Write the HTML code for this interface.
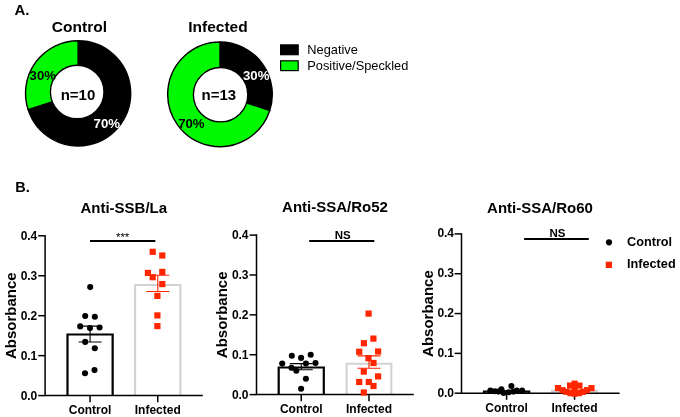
<!DOCTYPE html>
<html lang="en"><head><meta charset="utf-8"><title>Figure</title>
<style>html,body{margin:0;padding:0;background:#fff}body{width:680px;height:417px;overflow:hidden}svg{display:block;will-change:transform}text{font-family:"Liberation Sans",sans-serif;fill:#000}.b{font-weight:bold}</style>
</head><body>
<svg width="680" height="417" viewBox="0 0 680 417">
<rect width="680" height="417" fill="#fff"/>
<text class="b" x="14.4" y="15.4" font-size="15">A.</text>
<text class="b" x="79.4" y="32.2" font-size="15.5" text-anchor="middle">Control</text>
<text class="b" x="218" y="32.3" font-size="15.5" text-anchor="middle">Infected</text>
<path d="M78.1,93.3 L78.10,40.70 A52.6,52.6 0 1 1 28.07,109.55 Z" fill="#000" stroke="#000" stroke-width="1.4" stroke-linejoin="round"/>
<path d="M78.1,93.3 L28.07,109.55 A52.6,52.6 0 0 1 78.10,40.70 Z" fill="#00f900" stroke="#000" stroke-width="1.4" stroke-linejoin="round"/>
<circle cx="77.2" cy="92" r="26.8" fill="#fff" stroke="#000" stroke-width="1.4"/>
<text class="b" x="29.6" y="79.5" font-size="13.2">30%</text>
<text class="b" x="93.6" y="127.9" font-size="13.2" style="fill:#fff">70%</text>
<text class="b" x="78" y="99.8" font-size="15" text-anchor="middle">n=10</text>
<path d="M220.0,94.3 L220.00,42.00 A52.3,52.3 0 0 1 269.74,110.46 Z" fill="#000" stroke="#000" stroke-width="1.4" stroke-linejoin="round"/>
<path d="M220.0,94.3 L269.74,110.46 A52.3,52.3 0 1 1 220.00,42.00 Z" fill="#00f900" stroke="#000" stroke-width="1.4" stroke-linejoin="round"/>
<circle cx="220.6" cy="94.7" r="27.2" fill="#fff" stroke="#000" stroke-width="1.4"/>
<text class="b" x="243" y="80.3" font-size="13.2" style="fill:#fff">30%</text>
<text class="b" x="178.2" y="127.8" font-size="13.2">70%</text>
<text class="b" x="218.8" y="100.3" font-size="15" text-anchor="middle">n=13</text>
<rect x="280.6" y="44.9" width="17.6" height="9.8" fill="#000" stroke="#000" stroke-width="1.2"/>
<rect x="280.6" y="60.8" width="17.6" height="9.8" fill="#00f900" stroke="#000" stroke-width="1.2"/>
<text x="307.3" y="53.9" font-size="12.8">Negative</text>
<text x="307.3" y="69.7" font-size="12.8">Positive/Speckled</text>
<text class="b" x="15.2" y="191.8" font-size="14.5">B.</text>
<path d="M67.5,395.60 V334.48 H112.65 V395.60" fill="none" stroke="#000" stroke-width="2.2"/>
<path d="M135.1,395.60 V285.02 H180.4 V395.60" fill="none" stroke="#d2d2d2" stroke-width="2.1"/>
<path d="M45.1,235.05 V395.60 H202.8" fill="none" stroke="#000" stroke-width="1.5"/>
<path d="M38.20,395.60 H45.1" stroke="#000" stroke-width="1.5"/>
<text class="b" x="37.00" y="400.00" font-size="12" text-anchor="end" letter-spacing="-0.15">0.0</text>
<path d="M38.20,355.65 H45.1" stroke="#000" stroke-width="1.5"/>
<text class="b" x="37.00" y="360.05" font-size="12" text-anchor="end" letter-spacing="-0.15">0.1</text>
<path d="M38.20,315.70 H45.1" stroke="#000" stroke-width="1.5"/>
<text class="b" x="37.00" y="320.10" font-size="12" text-anchor="end" letter-spacing="-0.15">0.2</text>
<path d="M38.20,275.75 H45.1" stroke="#000" stroke-width="1.5"/>
<text class="b" x="37.00" y="280.15" font-size="12" text-anchor="end" letter-spacing="-0.15">0.3</text>
<path d="M38.20,235.80 H45.1" stroke="#000" stroke-width="1.5"/>
<text class="b" x="37.00" y="240.20" font-size="12" text-anchor="end" letter-spacing="-0.15">0.4</text>
<path d="M90.08,395.60 V402.20" stroke="#000" stroke-width="1.5"/>
<path d="M157.75,395.60 V402.20" stroke="#000" stroke-width="1.5"/>
<text class="b" x="90.08" y="414.00" font-size="12" text-anchor="middle">Control</text>
<text class="b" x="157.75" y="414.00" font-size="12" text-anchor="middle">Infected</text>
<text class="b" transform="translate(15.9,315.70) rotate(-90)" font-size="15" text-anchor="middle">Absorbance</text>
<text class="b" x="123.8" y="213" font-size="15" text-anchor="middle">Anti-SSB/La</text>
<path d="M90,241.00 H155.3" stroke="#000" stroke-width="2"/>
<text x="122.65" y="240.50" font-size="11.5" text-anchor="middle">***</text>
<path d="M90.08,326.13 V342.03 M78.58,326.13 h23 M78.58,342.03 h23" stroke="#000" stroke-width="1.1" fill="none"/>
<path d="M157.75,275.31 V291.53 M146.25,275.31 h23 M146.25,291.53 h23" stroke="#ff2600" stroke-width="1.1" fill="none"/>
<circle cx="90.2" cy="287.1" r="3.05"/>
<circle cx="85.2" cy="316" r="3.05"/>
<circle cx="94.8" cy="316.7" r="3.05"/>
<circle cx="80.2" cy="326.4" r="3.05"/>
<circle cx="90.0" cy="328.1" r="3.05"/>
<circle cx="99.6" cy="327.5" r="3.05"/>
<circle cx="85.2" cy="341.9" r="3.05"/>
<circle cx="94.8" cy="348.2" r="3.05"/>
<circle cx="85.0" cy="373.2" r="3.05"/>
<circle cx="94.5" cy="370.1" r="3.05"/>
<rect x="149.60" y="248.70" width="6.2" height="6.2" fill="#ff2600"/>
<rect x="159.20" y="252.40" width="6.2" height="6.2" fill="#ff2600"/>
<rect x="144.80" y="269.80" width="6.2" height="6.2" fill="#ff2600"/>
<rect x="159.20" y="268.80" width="6.2" height="6.2" fill="#ff2600"/>
<rect x="149.60" y="274.10" width="6.2" height="6.2" fill="#ff2600"/>
<rect x="159.20" y="281.00" width="6.2" height="6.2" fill="#ff2600"/>
<rect x="154.30" y="292.80" width="6.2" height="6.2" fill="#ff2600"/>
<rect x="154.30" y="312.30" width="6.2" height="6.2" fill="#ff2600"/>
<rect x="154.30" y="323.00" width="6.2" height="6.2" fill="#ff2600"/>
<path d="M278.7,394.60 V367.49 H323.8 V394.60" fill="none" stroke="#000" stroke-width="2.2"/>
<path d="M346.65,394.60 V363.82 H391.3 V394.60" fill="none" stroke="#d2d2d2" stroke-width="2.1"/>
<path d="M256.5,234.37 V394.60 H413.8" fill="none" stroke="#000" stroke-width="1.5"/>
<path d="M249.60,394.60 H256.5" stroke="#000" stroke-width="1.5"/>
<text class="b" x="248.20" y="398.60" font-size="12" text-anchor="end" letter-spacing="-0.15">0.0</text>
<path d="M249.60,354.73 H256.5" stroke="#000" stroke-width="1.5"/>
<text class="b" x="248.20" y="358.73" font-size="12" text-anchor="end" letter-spacing="-0.15">0.1</text>
<path d="M249.60,314.86 H256.5" stroke="#000" stroke-width="1.5"/>
<text class="b" x="248.20" y="318.86" font-size="12" text-anchor="end" letter-spacing="-0.15">0.2</text>
<path d="M249.60,274.99 H256.5" stroke="#000" stroke-width="1.5"/>
<text class="b" x="248.20" y="278.99" font-size="12" text-anchor="end" letter-spacing="-0.15">0.3</text>
<path d="M249.60,235.12 H256.5" stroke="#000" stroke-width="1.5"/>
<text class="b" x="248.20" y="239.12" font-size="12" text-anchor="end" letter-spacing="-0.15">0.4</text>
<path d="M301.25,394.60 V401.20" stroke="#000" stroke-width="1.5"/>
<path d="M368.98,394.60 V401.20" stroke="#000" stroke-width="1.5"/>
<text class="b" x="301.25" y="413.00" font-size="12" text-anchor="middle">Control</text>
<text class="b" x="368.98" y="413.00" font-size="12" text-anchor="middle">Infected</text>
<text class="b" transform="translate(227.1,314.86) rotate(-90)" font-size="15" text-anchor="middle">Absorbance</text>
<text class="b" x="335" y="212" font-size="15" text-anchor="middle">Anti-SSA/Ro52</text>
<path d="M309.2,241.00 H374.3" stroke="#000" stroke-width="2"/>
<text class="b" x="342.75" y="238.60" font-size="11.5" text-anchor="middle">NS</text>
<path d="M301.25,363.58 V369.80 M289.75,363.58 h23 M289.75,369.80 h23" stroke="#000" stroke-width="1.1" fill="none"/>
<path d="M368.98,355.91 V368.31 M357.48,355.91 h23 M357.48,368.31 h23" stroke="#ff2600" stroke-width="1.1" fill="none"/>
<circle cx="291.8" cy="355.8" r="3.05"/>
<circle cx="310.7" cy="354.8" r="3.05"/>
<circle cx="301.1" cy="357.9" r="3.05"/>
<circle cx="282.2" cy="363.6" r="3.05"/>
<circle cx="305.9" cy="363.6" r="3.05"/>
<circle cx="315.5" cy="363" r="3.05"/>
<circle cx="291.5" cy="367.8" r="3.05"/>
<circle cx="296.3" cy="370.8" r="3.05"/>
<circle cx="305.9" cy="378.8" r="3.05"/>
<circle cx="301.1" cy="388.7" r="3.05"/>
<rect x="365.50" y="310.50" width="6.2" height="6.2" fill="#ff2600"/>
<rect x="370.30" y="335.50" width="6.2" height="6.2" fill="#ff2600"/>
<rect x="360.80" y="340.10" width="6.2" height="6.2" fill="#ff2600"/>
<rect x="356.10" y="348.70" width="6.2" height="6.2" fill="#ff2600"/>
<rect x="375.00" y="348.40" width="6.2" height="6.2" fill="#ff2600"/>
<rect x="365.40" y="355.10" width="6.2" height="6.2" fill="#ff2600"/>
<rect x="370.40" y="359.90" width="6.2" height="6.2" fill="#ff2600"/>
<rect x="360.70" y="368.50" width="6.2" height="6.2" fill="#ff2600"/>
<rect x="375.00" y="373.30" width="6.2" height="6.2" fill="#ff2600"/>
<rect x="356.10" y="378.90" width="6.2" height="6.2" fill="#ff2600"/>
<rect x="365.70" y="378.90" width="6.2" height="6.2" fill="#ff2600"/>
<rect x="370.40" y="382.90" width="6.2" height="6.2" fill="#ff2600"/>
<rect x="360.70" y="389.40" width="6.2" height="6.2" fill="#ff2600"/>
<path d="M484,393.20 V391.69 H529.2 V393.20" fill="none" stroke="#000" stroke-width="2.2"/>
<path d="M552,393.20 V390.89 H597.1 V393.20" fill="none" stroke="#d2d2d2" stroke-width="2.1"/>
<path d="M461.5,233.17 V393.20 H619.6" fill="none" stroke="#000" stroke-width="1.5"/>
<path d="M454.60,393.20 H461.5" stroke="#000" stroke-width="1.5"/>
<text class="b" x="453.80" y="396.70" font-size="12" text-anchor="end" letter-spacing="-0.15">0.0</text>
<path d="M454.60,353.38 H461.5" stroke="#000" stroke-width="1.5"/>
<text class="b" x="453.80" y="356.88" font-size="12" text-anchor="end" letter-spacing="-0.15">0.1</text>
<path d="M454.60,313.56 H461.5" stroke="#000" stroke-width="1.5"/>
<text class="b" x="453.80" y="317.06" font-size="12" text-anchor="end" letter-spacing="-0.15">0.2</text>
<path d="M454.60,273.74 H461.5" stroke="#000" stroke-width="1.5"/>
<text class="b" x="453.80" y="277.24" font-size="12" text-anchor="end" letter-spacing="-0.15">0.3</text>
<path d="M454.60,233.92 H461.5" stroke="#000" stroke-width="1.5"/>
<text class="b" x="453.80" y="237.42" font-size="12" text-anchor="end" letter-spacing="-0.15">0.4</text>
<path d="M506.60,393.20 V399.80" stroke="#000" stroke-width="1.5"/>
<path d="M574.55,393.20 V399.80" stroke="#000" stroke-width="1.5"/>
<text class="b" x="506.60" y="412.20" font-size="12" text-anchor="middle">Control</text>
<text class="b" x="574.55" y="412.20" font-size="12" text-anchor="middle">Infected</text>
<text class="b" transform="translate(432.6,313.56) rotate(-90)" font-size="15" text-anchor="middle">Absorbance</text>
<text class="b" x="540" y="213.2" font-size="15" text-anchor="middle">Anti-SSA/Ro60</text>
<path d="M524.1,238.90 H588.8" stroke="#000" stroke-width="2"/>
<text class="b" x="557.45" y="236.50" font-size="11.5" text-anchor="middle">NS</text>
<path d="M506.60,391.21 V392.16 M495.10,391.21 h23 M495.10,392.16 h23" stroke="#000" stroke-width="1.1" fill="none"/>
<path d="M574.55,390.33 V391.45 M563.05,390.33 h23 M563.05,391.45 h23" stroke="#ff2600" stroke-width="1.1" fill="none"/>
<circle cx="511.4" cy="386.1" r="3.05"/>
<circle cx="501.4" cy="389.2" r="3.05"/>
<circle cx="490.4" cy="390.6" r="3.05"/>
<circle cx="495" cy="391.3" r="3.05"/>
<circle cx="516.8" cy="390.5" r="3.05"/>
<circle cx="522.1" cy="390.5" r="3.05"/>
<circle cx="503.6" cy="392.9" r="3.05"/>
<circle cx="508.8" cy="392.2" r="3.05"/>
<circle cx="498.5" cy="391.6" r="3.05"/>
<circle cx="513.5" cy="391.6" r="3.05"/>
<rect x="571.50" y="380.60" width="6.2" height="6.2" fill="#ff2600"/>
<rect x="567.00" y="382.50" width="6.2" height="6.2" fill="#ff2600"/>
<rect x="576.30" y="382.50" width="6.2" height="6.2" fill="#ff2600"/>
<rect x="554.90" y="385.00" width="6.2" height="6.2" fill="#ff2600"/>
<rect x="588.40" y="385.00" width="6.2" height="6.2" fill="#ff2600"/>
<rect x="559.40" y="387.10" width="6.2" height="6.2" fill="#ff2600"/>
<rect x="583.90" y="387.10" width="6.2" height="6.2" fill="#ff2600"/>
<rect x="563.40" y="388.70" width="6.2" height="6.2" fill="#ff2600"/>
<rect x="579.90" y="388.70" width="6.2" height="6.2" fill="#ff2600"/>
<rect x="567.40" y="390.00" width="6.2" height="6.2" fill="#ff2600"/>
<rect x="575.90" y="390.00" width="6.2" height="6.2" fill="#ff2600"/>
<rect x="571.50" y="390.50" width="6.2" height="6.2" fill="#ff2600"/>
<rect x="571.50" y="385.90" width="6.2" height="6.2" fill="#ff2600"/>
<circle cx="609" cy="242.3" r="3.1"/>
<rect x="605.75" y="261.7" width="6.3" height="6.3" fill="#ff2600"/>
<text class="b" x="627" y="246.4" font-size="12.7">Control</text>
<text class="b" x="627" y="268.4" font-size="12.7">Infected</text>
</svg></body></html>
